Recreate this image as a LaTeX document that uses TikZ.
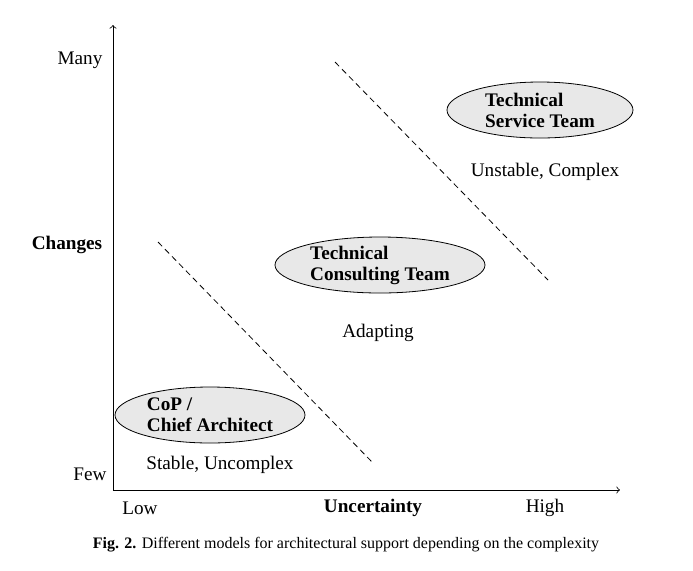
\documentclass[tikz,border=0pt]{standalone}
\usepackage{fontspec}
\setmainfont{Liberation Serif}
\usetikzlibrary{shapes.geometric}
\begin{document}
\begin{tikzpicture}[x=0.5pt,y=-0.5pt,font=\fontsize{9.6}{10.5}\selectfont,
    team/.style={ellipse,draw,fill=gray!18,inner sep=0pt,minimum height=28pt,align=left,font=\fontsize{9.6}{10.5}\selectfont\bfseries},
    divider/.style={densely dashed,thin}]
        \useasboundingbox (0,0) rectangle (693,570);
        % Define the axes
        \coordinate (O) at (113,490);
        \coordinate (ytop) at (113,25);
        \coordinate (xend) at (620,490);
        \draw[->] (O) -- (ytop);
        \draw[->] (O) -- (xend);

        % Axis labels
        \node (many) at (80,60) {Many};
        \node (changes) at (67,245) {\bfseries Changes};
        \node (few) at (90,474) {Few};
        \node (low) at (140,508) {Low};
        \node (uncert) at (373,508) {\bfseries Uncertainty};
        \node (high) at (545,508) {High};

        % Dashed borders between the models
        \coordinate (d1a) at (158,242);
        \coordinate (d1b) at (373,463);
        \coordinate (d2a) at (335,62);
        \coordinate (d2b) at (548,280);
        \draw[divider] (d1a) -- (d1b);
        \draw[divider] (d2a) -- (d2b);

        % Models
        \node[team,minimum width=95pt] (cop) at (210,415) {CoP /\\Chief Architect};
        \node (stable) at (220,465) {Stable, Uncomplex};

        \node[team,minimum width=105pt] (consult) at (380,265) {Technical\\Consulting Team};
        \node (adapt) at (378,333) {Adapting};

        \node[team,minimum width=93pt] (service) at (540,110) {Technical\\Service Team};
        \node (unstable) at (545,172) {Unstable, Complex};

        % Caption
        \node[font=\fontsize{8}{9}\selectfont] (cap) at (346,545) {\textbf{Fig. 2.} Different models for architectural support depending on the complexity};
    \end{tikzpicture}
\end{document}
